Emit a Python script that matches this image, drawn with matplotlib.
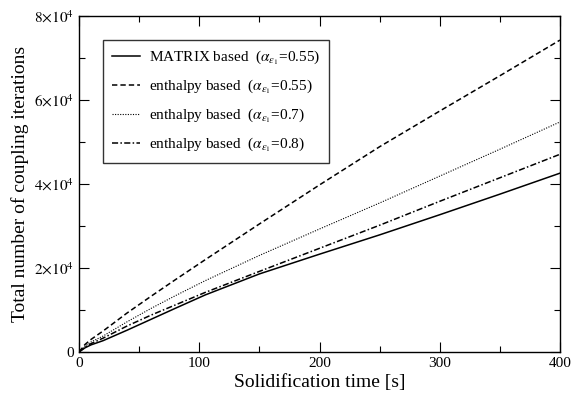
import matplotlib
matplotlib.use("Agg")
import matplotlib.pyplot as plt
from matplotlib.ticker import MultipleLocator, FuncFormatter

plt.rcParams["font.family"] = ["Liberation Serif", "DejaVu Serif"]
plt.rcParams["mathtext.fontset"] = "stix"

# ---------------- DATA ----------------
t = [0, 5, 10, 20, 40, 60, 80, 105, 150, 200, 250, 300, 350, 400]
matrix_055   = [0, 0.10, 0.17, 0.27, 0.52, 0.78, 1.04, 1.36, 1.86, 2.33, 2.79, 3.27, 3.76, 4.26]
enthalpy_055 = [0, 0.18, 0.30, 0.50, 0.93, 1.33, 1.72, 2.20, 3.05, 3.98, 4.89, 5.74, 6.58, 7.43]
enthalpy_07  = [0, 0.14, 0.24, 0.38, 0.72, 1.04, 1.34, 1.70, 2.30, 2.93, 3.55, 4.19, 4.83, 5.48]
enthalpy_08  = [0, 0.12, 0.20, 0.33, 0.62, 0.88, 1.12, 1.42, 1.92, 2.47, 3.02, 3.59, 4.15, 4.71]
scale = 1e4

lab = r"($\alpha_{\varepsilon_1}$=%s)"

# ---------------- PLOT ----------------
fig = plt.figure(figsize=(5.71, 4.04), dpi=100)
ax = fig.add_axes([0.1384, 0.1287, 0.8423, 0.8313])

ax.plot(t, [v * scale for v in matrix_055], "-", color="black", lw=1.1,
        label="MATRIX based  " + lab % "0.55")
ax.plot(t, [v * scale for v in enthalpy_055], color="black", lw=1.1,
        ls=(0, (3.5, 2)), label="enthalpy based  " + lab % "0.55")
ax.plot(t, [v * scale for v in enthalpy_07], color="black", lw=0.8,
        ls=(0, (1, 1.3)), label="enthalpy based  " + lab % "0.7")
ax.plot(t, [v * scale for v in enthalpy_08], color="black", lw=1.1,
        ls=(0, (4, 1.5, 1, 1.5)), label="enthalpy based  " + lab % "0.8")

ax.set_xlim(0, 400)
ax.set_ylim(0, 8e4)
ax.xaxis.set_major_locator(MultipleLocator(100))
ax.xaxis.set_minor_locator(MultipleLocator(50))
ax.yaxis.set_major_locator(MultipleLocator(2e4))
ax.yaxis.set_minor_locator(MultipleLocator(1e4))


def yfmt(v, pos):
    if v == 0:
        return "0"
    return r"$%d{\times}10^{4}$" % round(v / 1e4)


ax.yaxis.set_major_formatter(FuncFormatter(yfmt))
ax.tick_params(which="both", direction="in", top=True, right=True,
               labelsize=11, width=0.8)
ax.tick_params(which="major", length=7)
ax.tick_params(which="minor", length=4)
for s in ax.spines.values():
    s.set_linewidth(1.0)

ax.set_xlabel("Solidification time [s]", fontsize=14, labelpad=3)
ax.set_ylabel("Total number of coupling iterations", fontsize=14, labelpad=4)

leg = ax.legend(loc="upper left", bbox_to_anchor=(0.05, 0.929), fontsize=11,
                frameon=True, fancybox=False, edgecolor="black",
                handlelength=1.8, handletextpad=0.6, labelspacing=0.7,
                borderpad=0.6, borderaxespad=0)
leg.get_frame().set_linewidth(1.0)

fig.savefig("out.png", dpi=100)
